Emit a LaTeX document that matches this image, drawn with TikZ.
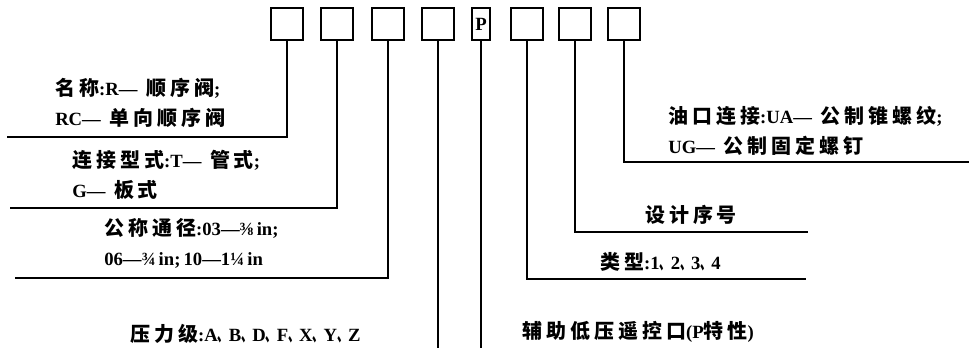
\documentclass[tikz,border=0pt]{standalone}
\usepackage{fontspec}
\usepackage{graphicx}
\setmainfont{Liberation Serif}
\newfontfamily\cjk{Noto Sans CJK SC}[Scale=1.07, LetterSpace=20]
\newcommand{\zh}[1]{{\cjk #1}}
\newcommand{\dun}{\scalebox{0.55}[1]{\cjk 、}}
\usepackage{tikz}

\begin{document}
\begin{tikzpicture}[
    x=0.75pt, y=-0.75pt,
    codebox/.style={draw, line width=1.4pt, minimum width=24pt, minimum height=24pt, inner sep=0pt, font=\bfseries\fontsize{14}{14}\selectfont},
    lbl/.style={anchor=west, align=left, inner sep=0pt, font=\bfseries\fontsize{14}{22.5}\selectfont},
    lead/.style={line width=0.8pt}
]
\useasboundingbox (0,0) rectangle (969,348);
% code fields
\node[codebox] (b1) at (287,24) {};
\node[codebox] (b2) at (337,24) {};
\node[codebox] (b3) at (388,24) {};
\node[codebox] (b4) at (438,24) {};
\node[codebox, minimum width=14pt] (bp) at (481,24) {P};
\node[codebox] (b6) at (527,24) {};
\node[codebox] (b7) at (575,24) {};
\node[codebox] (b8) at (624,24) {};
% labels
\node[lbl] (t1) at (55,103) {\zh{名称}:R—\zh{ 顺序阀};\\RC—\zh{ 单向顺序阀}};
\node[lbl] (t2) at (72,175) {\zh{连接型式}:T—\zh{ 管式};\\G—\zh{ 板式}};
\node[lbl] (t3) at (104,243) {\zh{公称通径}:03—⅜\,in;\\06—¾\,in;\,10—1¼\,in};
\node[lbl] (t4) at (130,334) {\zh{压力级}:A\dun B\dun D\dun F\dun X\dun Y\dun Z};
\node[lbl] (tp) at (522,332) {\zh{辅助低压遥控口}(P\zh{特性})};
\node[lbl] (t6) at (600,262) {\zh{类型}:1\dun 2\dun 3\dun 4};
\node[lbl, anchor=center] (t7) at (691,215) {\zh{设计序号}};
\node[lbl] (t8) at (668,131) {\zh{油口连接}:UA—\zh{ 公制锥螺纹};\\UG—\zh{ 公制固定螺钉}};
% leaders
\coordinate (e1) at (7,137);
\coordinate (e2) at (10,208);
\coordinate (e3) at (15,278);
\coordinate (e4) at (438,348);
\coordinate (ep) at (481,348);
\coordinate (e6) at (806,279);
\coordinate (e7) at (808,232);
\coordinate (e8) at (969,162);
\draw[lead] (b1) |- (e1);
\draw[lead] (b2) |- (e2);
\draw[lead] (b3) |- (e3);
\draw[lead] (b4) -- (e4);
\draw[lead] (bp) -- (ep);
\draw[lead] (b6) |- (e6);
\draw[lead] (b7) |- (e7);
\draw[lead] (b8) |- (e8);
\end{tikzpicture}
\end{document}
